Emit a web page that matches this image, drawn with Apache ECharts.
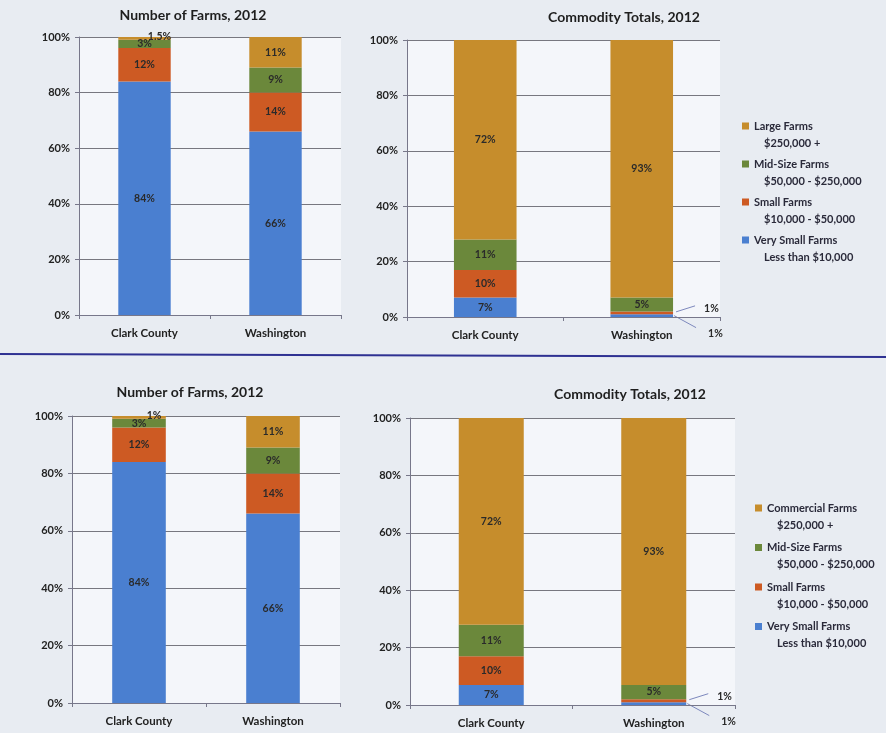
<!DOCTYPE html>
<html>
<head>
<meta charset="utf-8">
<script src="https://cdn.jsdelivr.net/npm/echarts@6/dist/echarts.min.js"></script>
<style>
  html, body { margin: 0; padding: 0; background: #e8ecf2; }
  #chart { width: 886px; height: 733px; }
</style>
</head>
<body>
<div id="chart"></div>
<script>
const categories = ['Clark County', 'Washington'];
const yMin = 0;
const yMax = 100;
const yStep = 20;

// Number of Farms, 2012 (upper copy)
const farmsVerySmallTop = [84, 66];
const farmsSmallTop = [12, 14];
const farmsMidTop = [3, 9];
const farmsLargeTop = [1.5, 11];

// Number of Farms, 2012 (lower copy)
const farmsVerySmallBottom = [84, 66];
const farmsSmallBottom = [12, 14];
const farmsMidBottom = [3, 9];
const farmsLargeBottom = [1, 11];

// Commodity Totals, 2012
const salesVerySmall = [7, 1];
const salesSmall = [10, 1];
const salesMid = [11, 5];
const salesLarge = [72, 93];

const topNames = ['Large Farms', 'Mid-Size Farms', 'Small Farms', 'Very Small Farms'];
const bottomNames = ['Commercial Farms', 'Mid-Size Farms', 'Small Farms', 'Very Small Farms'];
const ranges = ['$250,000 +', '$50,000 - $250,000', '$10,000 - $50,000', 'Less than $10,000'];

const colors = ['#c68d2c', '#6b883b', '#cd5a23', '#4a7fd0'];
const font = 'Lato, "Open Sans", sans-serif';
const axisColor = '#77778a';

const grids = [
  { left: 79, top: 37, width: 262, height: 278 },
  { left: 407, top: 40, width: 313, height: 277 },
  { left: 72, top: 416, width: 268, height: 287 },
  { left: 410, top: 418, width: 325, height: 287 }
];

const labelFont = {
  color: '#2a2a2a',
  fontSize: 10.5,
  fontWeight: 'bold',
  fontFamily: font,
  textBorderWidth: 0
};

// cols: [verySmall, small, mid, large]
function makeSeries(gi, names, cols, special) {
  return cols.map((vals, k) => {
    const ni = 3 - k;
    return {
      name: names[ni],
      type: 'bar',
      stack: 'g' + gi,
      xAxisIndex: gi,
      yAxisIndex: gi,
      barWidth: '40%',
      itemStyle: { color: colors[ni] },
      label: Object.assign({ show: true, position: 'inside', formatter: '{c}%' }, labelFont),
      data: vals.map((v, i) => {
        const s = special[k + '-' + i];
        return s ? { value: v, label: s } : v;
      })
    };
  });
}

const farmSpecial = { '3-0': { position: 'inside', offset: [15, -2] } };
const salesSpecial = {
  '0-1': { position: 'right', distance: 5, offset: [30, 18] },
  '1-1': { position: 'right', distance: 5, offset: [26, -4] }
};

function titleAt(text, x, y) {
  return {
    text: text, left: x, top: y, textAlign: 'center', padding: 0,
    textStyle: { fontFamily: font, fontSize: 14, fontWeight: 'bold', color: '#1e1e1e' }
  };
}

function legendAt(names, x, y, gap) {
  const txt = { fontFamily: font, fontSize: 11, fontWeight: 'bold', color: '#2a2a3a', lineHeight: 17 };
  return {
    data: names,
    orient: 'vertical',
    left: x,
    top: y,
    padding: 0,
    itemWidth: 7,
    itemHeight: 7,
    itemGap: gap,
    icon: 'rect',
    selectedMode: false,
    formatter: name => '{a|' + name + '}\n{b|' + ranges[names.indexOf(name)] + '}',
    textStyle: Object.assign({
      padding: [17, 0, 0, 0],
      rich: {
        a: Object.assign({}, txt),
        b: Object.assign({ padding: [0, 0, 0, 10] }, txt)
      }
    }, txt)
  };
}

const chart = echarts.init(document.getElementById('chart'));

const option = {
  backgroundColor: '#e8ecf2',
  animation: false,
  title: [
    titleAt('Number of Farms, 2012', 193, 8),
    titleAt('Commodity Totals, 2012', 624, 10),
    titleAt('Number of Farms, 2012', 190, 385),
    titleAt('Commodity Totals, 2012', 630, 387)
  ],
  legend: [
    legendAt(topNames, 742, 100.5, -13),
    legendAt(bottomNames, 755, 482.5, -11.5)
  ],
  grid: grids.map(g => Object.assign({ show: true, backgroundColor: '#f4f6fa', borderWidth: 0 }, g)),
  xAxis: grids.map((g, gi) => ({
    type: 'category',
    gridIndex: gi,
    data: categories,
    axisLine: { lineStyle: { color: axisColor, width: 1 } },
    axisTick: { show: true, length: 4, lineStyle: { color: axisColor } },
    axisLabel: { color: '#222', fontFamily: font, fontSize: 11.5, fontWeight: 'bold', margin: 12 }
  })),
  yAxis: grids.map((g, gi) => ({
    type: 'value',
    gridIndex: gi,
    min: yMin,
    max: yMax,
    interval: yStep,
    axisLine: { show: true, lineStyle: { color: axisColor, width: 1 } },
    axisTick: { show: true, length: 4, lineStyle: { color: axisColor } },
    axisLabel: { formatter: '{value}%', color: '#222', fontFamily: font, fontSize: 11, fontWeight: 'bold', margin: 9 },
    splitLine: { lineStyle: { color: '#77777f', width: 1 } }
  })),
  series: [].concat(
    makeSeries(0, topNames, [farmsVerySmallTop, farmsSmallTop, farmsMidTop, farmsLargeTop], farmSpecial),
    makeSeries(1, topNames, [salesVerySmall, salesSmall, salesMid, salesLarge], salesSpecial),
    makeSeries(2, bottomNames, [farmsVerySmallBottom, farmsSmallBottom, farmsMidBottom, farmsLargeBottom], farmSpecial),
    makeSeries(3, bottomNames, [salesVerySmall, salesSmall, salesMid, salesLarge], salesSpecial)
  )
};

chart.setOption(option);

// leader lines for the two thin 1% segments, placed from the axes
const graphics = [{
  type: 'line', id: 'sep', silent: true,
  shape: { x1: 0, y1: 354, x2: 886, y2: 357 },
  style: { stroke: '#2e3192', lineWidth: 2 }
}];
[1, 3].forEach(gi => {
  const c0 = chart.convertToPixel({ gridIndex: gi }, [0, 0]);
  const c1 = chart.convertToPixel({ gridIndex: gi }, [1, 0]);
  const xr = c1[0] + (c1[0] - c0[0]) * 0.2;
  const pBlue = chart.convertToPixel({ gridIndex: gi }, [1, salesVerySmall[1] / 2]);
  const pOrange = chart.convertToPixel({ gridIndex: gi }, [1, salesVerySmall[1] + salesSmall[1] / 2]);
  graphics.push({
    type: 'line', silent: true,
    shape: { x1: xr + 1, y1: pBlue[1], x2: xr + 23, y2: pBlue[1] + 12 },
    style: { stroke: '#7d88bd', lineWidth: 1 }
  });
  graphics.push({
    type: 'line', silent: true,
    shape: { x1: xr + 3, y1: pOrange[1] - 1, x2: xr + 22, y2: pOrange[1] - 7 },
    style: { stroke: '#7d88bd', lineWidth: 1 }
  });
});
chart.setOption({ graphic: graphics });
</script>
</body>
</html>
